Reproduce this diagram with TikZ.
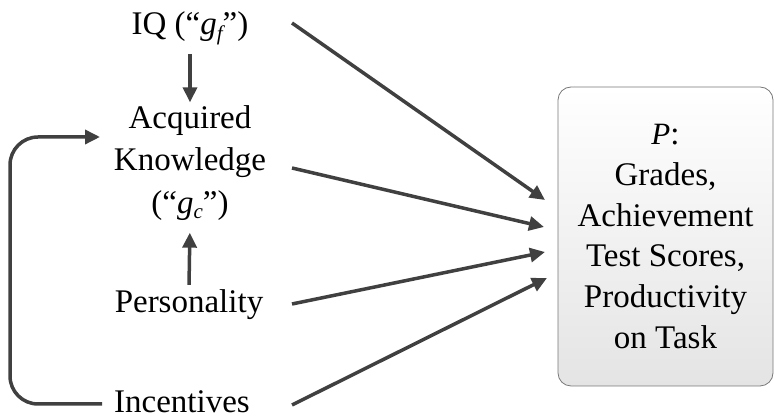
\documentclass[tikz,border=0pt]{standalone}
\usepackage{fontspec}
\setmainfont{Liberation Serif}
\usetikzlibrary{arrows.meta}
\definecolor{linegray}{RGB}{64,64,64}
\definecolor{boxborder}{RGB}{120,120,120}
\definecolor{boxbottom}{RGB}{228,228,228}
\newcommand{\gsub}[1]{{\itshape g}\raisebox{-0.35ex}{\fontsize{21}{21}\selectfont\itshape #1}}
\tikzset{
  lbl/.style={inner sep=3pt, font=\fontsize{33}{42.5}\selectfont, align=center, text=black},
  arr/.style={draw=linegray, line width=3.5pt, -{Triangle[length=15pt,width=14pt]}},
  outbox/.style={draw=boxborder, line width=0.8pt, rounded corners=13pt,
    top color=white, bottom color=boxbottom, minimum width=215pt, minimum height=299pt,
    align=center, font=\fontsize{33}{40.7}\selectfont, inner sep=0pt}
}
\begin{document}
\begin{tikzpicture}[x=1pt,y=1pt]
\useasboundingbox (0,0) rectangle (774,419);
\node[lbl, anchor=base] (iq) at (190,384) {IQ (“\gsub{f}”)};
\node[lbl] (ak) at (190,256) {Acquired\\Knowledge\\(“\gsub{c}”)};
\node[lbl, anchor=base] (pers) at (189,106) {Personality};
\node[lbl, anchor=base, inner sep=1pt] (inc) at (182,6) {Incentives};
\node[outbox] (box) at (665.5,182.5) {{\fontsize{31}{31}\selectfont\itshape P}:\\Grades,\\Achievement\\Test Scores,\\Productivity\\on Task};
% free ends
\coordinate (s1) at (292,396);
\coordinate (s2) at (292,251);
\coordinate (s3) at (292,115);
\coordinate (s4) at (292,14);
\coordinate (e1) at (545,219);
\coordinate (e2) at (544,192);
\coordinate (e3) at (545,167);
\coordinate (e4) at (547,141);
\coordinate (l0) at (102,15);
\coordinate (l1) at (10,15);
\coordinate (l2) at (10,282);
\coordinate (l3) at (100,282);
\draw[arr, shorten <=6pt] (iq.south) -- (ak.north);
\draw[arr, shorten <=2pt, shorten >=9pt] (pers.north) -- (ak.south);
\draw[arr] (s1) -- (e1);
\draw[arr] (s2) -- (e2);
\draw[arr] (s3) -- (e3);
\draw[arr] (s4) -- (e4);
\draw[arr, rounded corners=28pt] (l0) -- (l1) -- (l2) -- (l3);
\end{tikzpicture}
\end{document}
